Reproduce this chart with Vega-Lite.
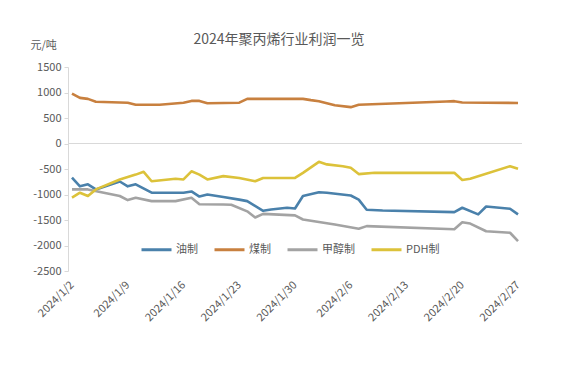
{
  "$schema": "https://vega.github.io/schema/vega-lite/v6.json",
  "width": 454,
  "height": 204,
  "autosize": {"type": "none"},
  "padding": {"left": 68, "top": 67, "right": 45, "bottom": 97},
  "background": "white",
  "config": {
    "font": "Noto Sans CJK SC",
    "view": {"stroke": null},
    "axis": {"labelColor": "#595959", "titleColor": "#595959", "labelFont": "Noto Sans CJK SC", "titleFont": "Noto Sans CJK SC"},
    "axisY": {"labelOverlap": false, "labelBound": false}
  },
  "title": {
    "text": "2024年聚丙烯行业利润一览",
    "fontSize": 14,
    "fontWeight": "normal",
    "color": "#595959",
    "anchor": "middle",
    "dx": -16,
    "dy": 22,
    "offset": 14
  },
  "data": {
    "values": [
      {"date": "2024-01-02", "series": "油制", "value": -670},
      {"date": "2024-01-03", "series": "油制", "value": -840},
      {"date": "2024-01-04", "series": "油制", "value": -800},
      {"date": "2024-01-05", "series": "油制", "value": -900},
      {"date": "2024-01-08", "series": "油制", "value": -745},
      {"date": "2024-01-09", "series": "油制", "value": -840},
      {"date": "2024-01-10", "series": "油制", "value": -800},
      {"date": "2024-01-12", "series": "油制", "value": -965},
      {"date": "2024-01-16", "series": "油制", "value": -965},
      {"date": "2024-01-17", "series": "油制", "value": -940},
      {"date": "2024-01-18", "series": "油制", "value": -1040},
      {"date": "2024-01-19", "series": "油制", "value": -1000},
      {"date": "2024-01-21", "series": "油制", "value": -1050},
      {"date": "2024-01-23", "series": "油制", "value": -1100},
      {"date": "2024-01-24", "series": "油制", "value": -1130},
      {"date": "2024-01-26", "series": "油制", "value": -1320},
      {"date": "2024-01-27", "series": "油制", "value": -1295},
      {"date": "2024-01-29", "series": "油制", "value": -1260},
      {"date": "2024-01-30", "series": "油制", "value": -1275},
      {"date": "2024-01-31", "series": "油制", "value": -1030},
      {"date": "2024-02-02", "series": "油制", "value": -955},
      {"date": "2024-02-03", "series": "油制", "value": -967},
      {"date": "2024-02-06", "series": "油制", "value": -1020},
      {"date": "2024-02-07", "series": "油制", "value": -1100},
      {"date": "2024-02-08", "series": "油制", "value": -1300},
      {"date": "2024-02-10", "series": "油制", "value": -1315},
      {"date": "2024-02-19", "series": "油制", "value": -1345},
      {"date": "2024-02-20", "series": "油制", "value": -1260},
      {"date": "2024-02-22", "series": "油制", "value": -1390},
      {"date": "2024-02-23", "series": "油制", "value": -1235},
      {"date": "2024-02-26", "series": "油制", "value": -1280},
      {"date": "2024-02-27", "series": "油制", "value": -1390},

      {"date": "2024-01-02", "series": "煤制", "value": 980},
      {"date": "2024-01-03", "series": "煤制", "value": 895},
      {"date": "2024-01-04", "series": "煤制", "value": 875},
      {"date": "2024-01-05", "series": "煤制", "value": 820},
      {"date": "2024-01-09", "series": "煤制", "value": 800},
      {"date": "2024-01-10", "series": "煤制", "value": 760},
      {"date": "2024-01-13", "series": "煤制", "value": 760},
      {"date": "2024-01-16", "series": "煤制", "value": 800},
      {"date": "2024-01-17", "series": "煤制", "value": 835},
      {"date": "2024-01-18", "series": "煤制", "value": 835},
      {"date": "2024-01-19", "series": "煤制", "value": 790},
      {"date": "2024-01-23", "series": "煤制", "value": 800},
      {"date": "2024-01-24", "series": "煤制", "value": 875},
      {"date": "2024-01-31", "series": "煤制", "value": 875},
      {"date": "2024-02-01", "series": "煤制", "value": 850},
      {"date": "2024-02-02", "series": "煤制", "value": 830},
      {"date": "2024-02-04", "series": "煤制", "value": 750},
      {"date": "2024-02-06", "series": "煤制", "value": 713},
      {"date": "2024-02-07", "series": "煤制", "value": 760},
      {"date": "2024-02-18", "series": "煤制", "value": 825},
      {"date": "2024-02-19", "series": "煤制", "value": 830},
      {"date": "2024-02-20", "series": "煤制", "value": 805},
      {"date": "2024-02-27", "series": "煤制", "value": 795},

      {"date": "2024-01-02", "series": "甲醇制", "value": -900},
      {"date": "2024-01-04", "series": "甲醇制", "value": -900},
      {"date": "2024-01-06", "series": "甲醇制", "value": -965},
      {"date": "2024-01-08", "series": "甲醇制", "value": -1030},
      {"date": "2024-01-09", "series": "甲醇制", "value": -1110},
      {"date": "2024-01-10", "series": "甲醇制", "value": -1065},
      {"date": "2024-01-12", "series": "甲醇制", "value": -1130},
      {"date": "2024-01-15", "series": "甲醇制", "value": -1130},
      {"date": "2024-01-17", "series": "甲醇制", "value": -1065},
      {"date": "2024-01-18", "series": "甲醇制", "value": -1190},
      {"date": "2024-01-21", "series": "甲醇制", "value": -1195},
      {"date": "2024-01-22", "series": "甲醇制", "value": -1200},
      {"date": "2024-01-24", "series": "甲醇制", "value": -1330},
      {"date": "2024-01-25", "series": "甲醇制", "value": -1450},
      {"date": "2024-01-26", "series": "甲醇制", "value": -1380},
      {"date": "2024-01-30", "series": "甲醇制", "value": -1410},
      {"date": "2024-01-31", "series": "甲醇制", "value": -1490},
      {"date": "2024-02-04", "series": "甲醇制", "value": -1590},
      {"date": "2024-02-07", "series": "甲醇制", "value": -1670},
      {"date": "2024-02-08", "series": "甲醇制", "value": -1620},
      {"date": "2024-02-19", "series": "甲醇制", "value": -1680},
      {"date": "2024-02-20", "series": "甲醇制", "value": -1545},
      {"date": "2024-02-21", "series": "甲醇制", "value": -1570},
      {"date": "2024-02-23", "series": "甲醇制", "value": -1720},
      {"date": "2024-02-26", "series": "甲醇制", "value": -1750},
      {"date": "2024-02-27", "series": "甲醇制", "value": -1915},

      {"date": "2024-01-02", "series": "PDH制", "value": -1060},
      {"date": "2024-01-03", "series": "PDH制", "value": -965},
      {"date": "2024-01-04", "series": "PDH制", "value": -1030},
      {"date": "2024-01-05", "series": "PDH制", "value": -900},
      {"date": "2024-01-08", "series": "PDH制", "value": -705},
      {"date": "2024-01-10", "series": "PDH制", "value": -610},
      {"date": "2024-01-11", "series": "PDH制", "value": -555},
      {"date": "2024-01-12", "series": "PDH制", "value": -740},
      {"date": "2024-01-15", "series": "PDH制", "value": -690},
      {"date": "2024-01-16", "series": "PDH制", "value": -705},
      {"date": "2024-01-17", "series": "PDH制", "value": -545},
      {"date": "2024-01-18", "series": "PDH制", "value": -610},
      {"date": "2024-01-19", "series": "PDH制", "value": -705},
      {"date": "2024-01-21", "series": "PDH制", "value": -640},
      {"date": "2024-01-23", "series": "PDH制", "value": -675},
      {"date": "2024-01-25", "series": "PDH制", "value": -740},
      {"date": "2024-01-26", "series": "PDH制", "value": -675},
      {"date": "2024-01-30", "series": "PDH制", "value": -675},
      {"date": "2024-01-31", "series": "PDH制", "value": -575},
      {"date": "2024-02-02", "series": "PDH制", "value": -360},
      {"date": "2024-02-03", "series": "PDH制", "value": -410},
      {"date": "2024-02-05", "series": "PDH制", "value": -445},
      {"date": "2024-02-06", "series": "PDH制", "value": -475},
      {"date": "2024-02-07", "series": "PDH制", "value": -600},
      {"date": "2024-02-09", "series": "PDH制", "value": -575},
      {"date": "2024-02-19", "series": "PDH制", "value": -575},
      {"date": "2024-02-20", "series": "PDH制", "value": -715},
      {"date": "2024-02-21", "series": "PDH制", "value": -690},
      {"date": "2024-02-26", "series": "PDH制", "value": -445},
      {"date": "2024-02-27", "series": "PDH制", "value": -495}
    ]
  },
  "layer": [
    {
      "mark": {"type": "line", "strokeWidth": 2.6, "strokeJoin": "round"},
      "encoding": {
        "x": {
          "field": "date",
          "type": "temporal",
          "scale": {
            "type": "utc",
            "domain": [
              {"year": 2024, "month": 1, "date": 1, "hours": 12, "utc": true},
              {"year": 2024, "month": 2, "date": 27, "hours": 12, "utc": true}
            ]
          },
          "axis": {
            "title": null,
            "domain": false,
            "ticks": false,
            "grid": false,
            "labelAngle": -45,
            "labelAlign": "right",
            "labelBaseline": "middle",
            "labelPadding": 12,
            "labelFontSize": 11,
            "labelOverlap": false,
            "labelFlush": false,
            "values": [
              {"year": 2024, "month": 1, "date": 2, "utc": true},
              {"year": 2024, "month": 1, "date": 9, "utc": true},
              {"year": 2024, "month": 1, "date": 16, "utc": true},
              {"year": 2024, "month": 1, "date": 23, "utc": true},
              {"year": 2024, "month": 1, "date": 30, "utc": true},
              {"year": 2024, "month": 2, "date": 6, "utc": true},
              {"year": 2024, "month": 2, "date": 13, "utc": true},
              {"year": 2024, "month": 2, "date": 20, "utc": true},
              {"year": 2024, "month": 2, "date": 27, "utc": true}
            ],
            "labelExpr": "utcFormat(datum.value, '%Y/%-m/%-d')"
          }
        },
        "y": {
          "field": "value",
          "type": "quantitative",
          "scale": {"domain": [-2500, 1500], "nice": false, "zero": false},
          "axis": {
            "title": "元/吨",
            "titleAngle": 0,
            "titleAlign": "left",
            "titleBaseline": "middle",
            "titleX": -38,
            "titleY": -22,
            "titleFontSize": 11,
            "titleFontWeight": "normal",
            "grid": false,
            "domainColor": "#d9d9d9",
            "tickColor": "#d9d9d9",
            "tickSize": 4,
            "labelFontSize": 11,
            "labelPadding": 3,
            "labelOverlap": false,
            "labelBound": false,
            "tickCount": 9,
            "values": [-2500, -2000, -1500, -1000, -500, 0, 500, 1000, 1500],
            "labelExpr": "'' + datum.value"
          }
        },
        "color": {
          "field": "series",
          "type": "nominal",
          "scale": {
            "domain": ["油制", "煤制", "甲醇制", "PDH制"],
            "range": ["#4a81ab", "#c8803f", "#a3a3a3", "#dcc23a"]
          },
          "legend": {
            "title": null,
            "orient": "none",
            "legendX": 72,
            "legendY": 166,
            "direction": "horizontal",
            "symbolType": "stroke",
            "symbolSize": 900,
            "symbolStrokeWidth": 3,
            "labelFontSize": 11,
            "labelColor": "#595959",
            "labelOffset": 3,
            "columnPadding": 10
          }
        }
      }
    },
    {
      "mark": {"type": "rule", "color": "#d9d9d9", "strokeWidth": 1},
      "encoding": {"y": {"datum": 0, "type": "quantitative"}}
    }
  ]
}
